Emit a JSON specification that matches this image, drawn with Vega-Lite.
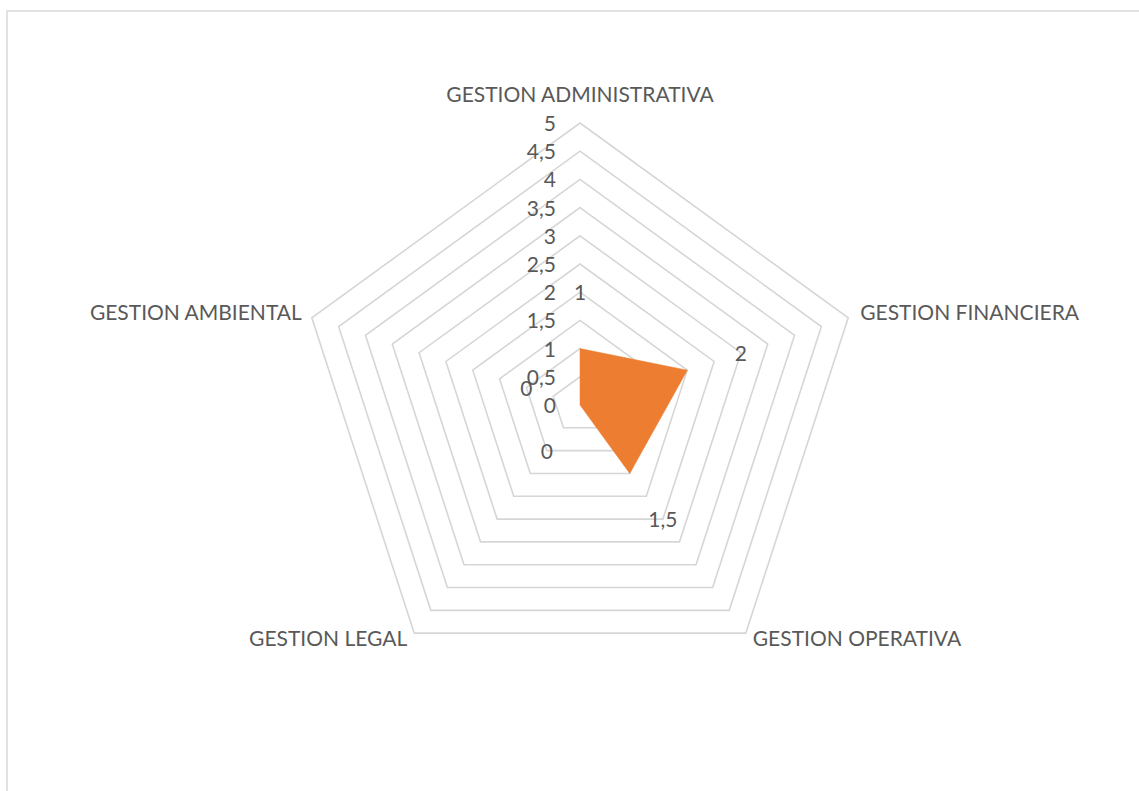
{
  "$schema": "https://vega.github.io/schema/vega-lite/v6.json",
  "width": 1200,
  "height": 850,
  "autosize": "none",
  "padding": {"left": 7, "top": 11, "right": 0, "bottom": 0},
  "background": "white",
  "config": {
    "view": {"stroke": "#d9d9d9", "strokeWidth": 1.5},
    "locale": {"number": {"decimal": ",", "thousands": ".", "grouping": [3], "currency": ["", " €"]}},
    "text": {"font": "Lato", "fontSize": 21, "fill": "#595959"}
  },
  "datasets": {
    "axes": [
      {"axis": "GESTION ADMINISTRATIVA", "value": 1},
      {"axis": "GESTION FINANCIERA", "value": 2},
      {"axis": "GESTION OPERATIVA", "value": 1.5},
      {"axis": "GESTION LEGAL", "value": 0},
      {"axis": "GESTION AMBIENTAL", "value": 0}
    ],
    "ticks": [
      {"tick": 0}, {"tick": 0.5}, {"tick": 1}, {"tick": 1.5}, {"tick": 2}, {"tick": 2.5},
      {"tick": 3}, {"tick": 3.5}, {"tick": 4}, {"tick": 4.5}, {"tick": 5}
    ],
    "rings": [
      {"level": 0.5, "axis": "GESTION ADMINISTRATIVA"}, {"level": 0.5, "axis": "GESTION FINANCIERA"}, {"level": 0.5, "axis": "GESTION OPERATIVA"}, {"level": 0.5, "axis": "GESTION LEGAL"}, {"level": 0.5, "axis": "GESTION AMBIENTAL"},
      {"level": 1, "axis": "GESTION ADMINISTRATIVA"}, {"level": 1, "axis": "GESTION FINANCIERA"}, {"level": 1, "axis": "GESTION OPERATIVA"}, {"level": 1, "axis": "GESTION LEGAL"}, {"level": 1, "axis": "GESTION AMBIENTAL"},
      {"level": 1.5, "axis": "GESTION ADMINISTRATIVA"}, {"level": 1.5, "axis": "GESTION FINANCIERA"}, {"level": 1.5, "axis": "GESTION OPERATIVA"}, {"level": 1.5, "axis": "GESTION LEGAL"}, {"level": 1.5, "axis": "GESTION AMBIENTAL"},
      {"level": 2, "axis": "GESTION ADMINISTRATIVA"}, {"level": 2, "axis": "GESTION FINANCIERA"}, {"level": 2, "axis": "GESTION OPERATIVA"}, {"level": 2, "axis": "GESTION LEGAL"}, {"level": 2, "axis": "GESTION AMBIENTAL"},
      {"level": 2.5, "axis": "GESTION ADMINISTRATIVA"}, {"level": 2.5, "axis": "GESTION FINANCIERA"}, {"level": 2.5, "axis": "GESTION OPERATIVA"}, {"level": 2.5, "axis": "GESTION LEGAL"}, {"level": 2.5, "axis": "GESTION AMBIENTAL"},
      {"level": 3, "axis": "GESTION ADMINISTRATIVA"}, {"level": 3, "axis": "GESTION FINANCIERA"}, {"level": 3, "axis": "GESTION OPERATIVA"}, {"level": 3, "axis": "GESTION LEGAL"}, {"level": 3, "axis": "GESTION AMBIENTAL"},
      {"level": 3.5, "axis": "GESTION ADMINISTRATIVA"}, {"level": 3.5, "axis": "GESTION FINANCIERA"}, {"level": 3.5, "axis": "GESTION OPERATIVA"}, {"level": 3.5, "axis": "GESTION LEGAL"}, {"level": 3.5, "axis": "GESTION AMBIENTAL"},
      {"level": 4, "axis": "GESTION ADMINISTRATIVA"}, {"level": 4, "axis": "GESTION FINANCIERA"}, {"level": 4, "axis": "GESTION OPERATIVA"}, {"level": 4, "axis": "GESTION LEGAL"}, {"level": 4, "axis": "GESTION AMBIENTAL"},
      {"level": 4.5, "axis": "GESTION ADMINISTRATIVA"}, {"level": 4.5, "axis": "GESTION FINANCIERA"}, {"level": 4.5, "axis": "GESTION OPERATIVA"}, {"level": 4.5, "axis": "GESTION LEGAL"}, {"level": 4.5, "axis": "GESTION AMBIENTAL"},
      {"level": 5, "axis": "GESTION ADMINISTRATIVA"}, {"level": 5, "axis": "GESTION FINANCIERA"}, {"level": 5, "axis": "GESTION OPERATIVA"}, {"level": 5, "axis": "GESTION LEGAL"}, {"level": 5, "axis": "GESTION AMBIENTAL"}
    ]
  },
  "encoding": {
    "x": {"field": "x", "type": "quantitative", "scale": {"domain": [-10.16, 11.117], "nice": false, "zero": false}, "axis": null},
    "y": {"field": "y", "type": "quantitative", "scale": {"domain": [-8.085, 6.986], "nice": false, "zero": false}, "axis": null}
  },
  "layer": [
    {
      "data": {"name": "rings"},
      "transform": [
        {"calculate": "indexof(['GESTION ADMINISTRATIVA','GESTION FINANCIERA','GESTION OPERATIVA','GESTION LEGAL','GESTION AMBIENTAL'], datum.axis)", "as": "k"},
        {"calculate": "PI/2 - datum.k*2*PI/5", "as": "ang"},
        {"calculate": "datum.level*cos(datum.ang)", "as": "x"},
        {"calculate": "datum.level*sin(datum.ang)", "as": "y"}
      ],
      "mark": {"type": "line", "interpolate": "linear-closed", "stroke": "#d6d6d6", "strokeWidth": 1.6},
      "encoding": {
        "detail": {"field": "level", "type": "nominal"},
        "order": {"field": "k", "type": "quantitative"}
      }
    },
    {
      "data": {"name": "axes"},
      "transform": [
        {"calculate": "indexof(['GESTION ADMINISTRATIVA','GESTION FINANCIERA','GESTION OPERATIVA','GESTION LEGAL','GESTION AMBIENTAL'], datum.axis)", "as": "k"},
        {"calculate": "PI/2 - datum.k*2*PI/5", "as": "ang"},
        {"calculate": "datum.value*cos(datum.ang)", "as": "x"},
        {"calculate": "datum.value*sin(datum.ang)", "as": "y"}
      ],
      "mark": {"type": "line", "interpolate": "linear-closed", "fill": "#ED7D31", "stroke": "#ED7D31", "strokeWidth": 0.5},
      "encoding": {
        "order": {"field": "k", "type": "quantitative"}
      }
    },
    {
      "data": {"name": "ticks"},
      "transform": [
        {"calculate": "0", "as": "x"},
        {"calculate": "datum.tick", "as": "y"}
      ],
      "mark": {"type": "text", "align": "right", "baseline": "middle", "dx": -24, "dy": 2},
      "encoding": {"text": {"field": "tick", "type": "quantitative", "format": ".1~f"}}
    },
    {
      "data": {"name": "axes"},
      "transform": [
        {"calculate": "indexof(['GESTION ADMINISTRATIVA','GESTION FINANCIERA','GESTION OPERATIVA','GESTION LEGAL','GESTION AMBIENTAL'], datum.axis)", "as": "k"},
        {"calculate": "PI/2 - datum.k*2*PI/5", "as": "ang"},
        {"calculate": "(datum.value+1)*cos(datum.ang)", "as": "x"},
        {"calculate": "(datum.value+1)*sin(datum.ang)", "as": "y"}
      ],
      "mark": {"type": "text", "align": "center", "baseline": "middle", "dy": 2},
      "encoding": {"text": {"field": "value", "type": "quantitative", "format": ".1~f"}}
    },
    {
      "data": {"name": "axes"},
      "transform": [
        {"filter": "datum.axis === 'GESTION ADMINISTRATIVA'"},
        {"calculate": "0", "as": "x"},
        {"calculate": "5", "as": "y"}
      ],
      "mark": {"type": "text", "align": "center", "baseline": "middle", "dy": -27},
      "encoding": {"text": {"field": "axis", "type": "nominal"}}
    },
    {
      "data": {"name": "axes"},
      "transform": [
        {"filter": "datum.axis === 'GESTION FINANCIERA'"},
        {"calculate": "5*cos(PI/2 - 2*PI/5)", "as": "x"},
        {"calculate": "5*sin(PI/2 - 2*PI/5)", "as": "y"}
      ],
      "mark": {"type": "text", "align": "left", "baseline": "middle", "dx": 12, "dy": -4},
      "encoding": {"text": {"field": "axis", "type": "nominal"}}
    },
    {
      "data": {"name": "axes"},
      "transform": [
        {"filter": "datum.axis === 'GESTION OPERATIVA'"},
        {"calculate": "5*cos(PI/2 - 4*PI/5)", "as": "x"},
        {"calculate": "5*sin(PI/2 - 4*PI/5)", "as": "y"}
      ],
      "mark": {"type": "text", "align": "left", "baseline": "middle", "dx": 7, "dy": 7},
      "encoding": {"text": {"field": "axis", "type": "nominal"}}
    },
    {
      "data": {"name": "axes"},
      "transform": [
        {"filter": "datum.axis === 'GESTION LEGAL'"},
        {"calculate": "5*cos(PI/2 - 6*PI/5)", "as": "x"},
        {"calculate": "5*sin(PI/2 - 6*PI/5)", "as": "y"}
      ],
      "mark": {"type": "text", "align": "right", "baseline": "middle", "dx": -7, "dy": 7},
      "encoding": {"text": {"field": "axis", "type": "nominal"}}
    },
    {
      "data": {"name": "axes"},
      "transform": [
        {"filter": "datum.axis === 'GESTION AMBIENTAL'"},
        {"calculate": "5*cos(PI/2 - 8*PI/5)", "as": "x"},
        {"calculate": "5*sin(PI/2 - 8*PI/5)", "as": "y"}
      ],
      "mark": {"type": "text", "align": "right", "baseline": "middle", "dx": -10, "dy": -4},
      "encoding": {"text": {"field": "axis", "type": "nominal"}}
    }
  ]
}
